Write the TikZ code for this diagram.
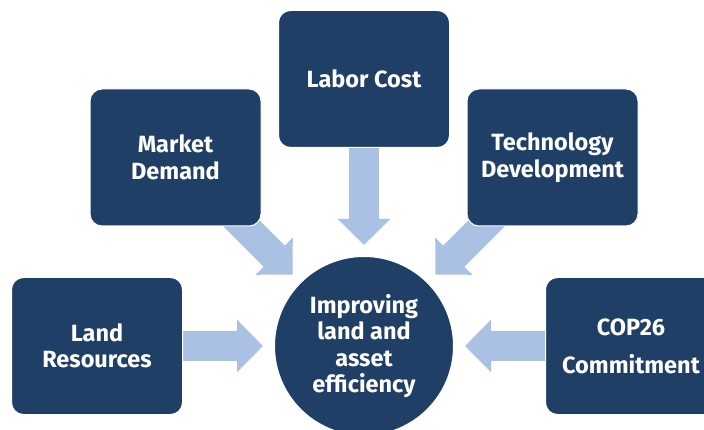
\documentclass[tikz,border=0pt]{standalone}
\usepackage{fontspec}
\setmainfont{Fira Sans}
\usepackage{xcolor}
\usetikzlibrary{arrows.meta, positioning, backgrounds}

\definecolor{navy}{RGB}{31,63,102}
\definecolor{lightblue}{RGB}{170,193,228}

\begin{document}
\begin{tikzpicture}[
  x=1pt, y=-1pt,
  % Node styles
  factor/.style={draw=white, line width=1pt, fill=navy, rounded corners=12pt,
                 minimum width=171pt, minimum height=137pt, align=center,
                 text=white, font=\fontsize{23.5}{26.5}\selectfont\bfseries},
  hubnode/.style={circle, draw=white, line width=1pt, fill=navy, inner sep=0pt,
                  minimum size=179pt, align=center, text=white,
                  font=\fontsize{23.5}{26.5}\selectfont\bfseries},
  % Arrow style
  bigarr/.style={-{Triangle[width=51pt, length=26pt]}, line width=30pt,
                 draw=lightblue, shorten >=11pt},
]
  \useasboundingbox (0,0) rectangle (704,430);

  % ── Centre ──
  \node[hubnode] (hub) at (364,346) {Improving\\land and\\asset\\efficiency};

  % ── Factors round the centre ──
  \node[factor, left=91pt of hub] (land) {Land\\Resources};
  \node[factor, right=91pt of hub] (cop) {COP26\\[11.5pt]Commitment};
  \node[factor, above=108pt of hub] (labor) {Labor Cost};
  \node[factor] (market) at (175.5,157.5) {Market\\Demand};
  \node[factor] (tech) at (552.5,157.5) {Technology\\Development};

  % ── Arrows into the centre (behind the boxes) ──
  \begin{pgfonlayer}{background}
    \draw[bigarr] (land.center) -- (hub);
    \draw[bigarr] (cop.center) -- (hub);
    \draw[bigarr] (labor.center) -- (hub);
    \draw[bigarr] (market.center) -- (hub);
    \draw[bigarr] (tech.center) -- (hub);
  \end{pgfonlayer}

\end{tikzpicture}
\end{document}
